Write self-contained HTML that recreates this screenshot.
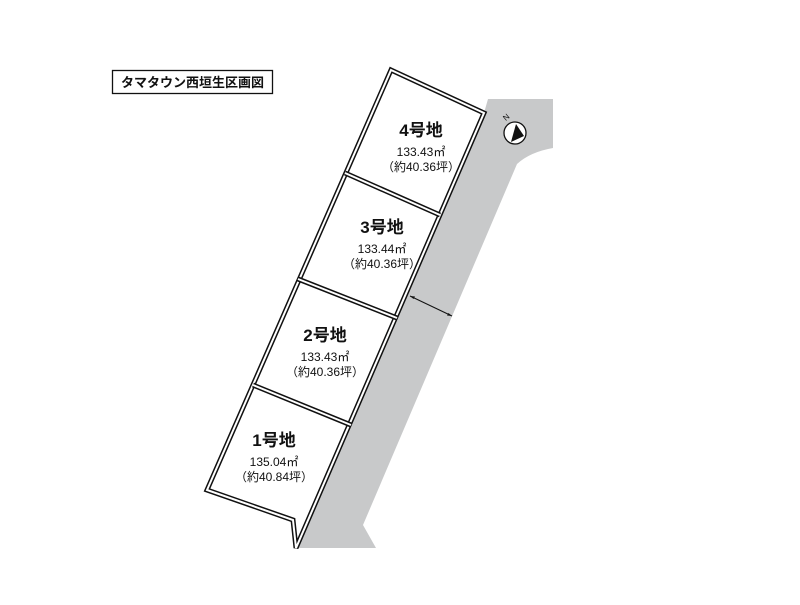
<!DOCTYPE html>
<html><head><meta charset="utf-8"><style>
body{margin:0;background:#fff}
svg text{font-family:"Liberation Sans","Noto Sans CJK JP",sans-serif;text-anchor:middle;fill:#111}
.t{font-size:17px;font-weight:bold}
.s{font-size:12px}
</style></head><body>
<svg width="800" height="600" viewBox="0 0 800 600" xmlns="http://www.w3.org/2000/svg">
<rect width="800" height="600" fill="#fff"/>
<path d="M488,99 L553,99 L553,148 Q530,152 517,164 L363,525 L376,548 L296,548 L484,113 Z" fill="#c8c9ca"/>
<g fill="none" stroke-linejoin="miter" stroke-miterlimit="2">
<path d="M391,70 L484,113 L296,548 L293,520 L207,490 Z" fill="#fff" stroke="#111" stroke-width="5"/>
<path d="M391,70 L484,113 L296,548 L293,520 L207,490 Z" stroke="#fff" stroke-width="2"/>
<path d="M345,173 L440,215 M298,279 L397,318 M253,385 L351,425" stroke="#111" stroke-width="5"/>
<path d="M345,173 L440,215 M298,279 L397,318 M253,385 L351,425" stroke="#fff" stroke-width="2"/>
</g>
<line x1="410" y1="296" x2="452" y2="316" stroke="#111" stroke-width="1"/>
<path d="M410,296 l5,0.5 l-1.5,2.5z M452,316 l-5,-0.5 l1.5,-2.5z" fill="#111"/>
<rect x="112.5" y="70.5" width="160" height="23" fill="#fff" stroke="#111" stroke-width="1.3"/>
<text x="192.5" y="87" style="font-size:13px;font-weight:bold">タマタウン西垣生区画図</text>
<circle cx="515" cy="133" r="11" fill="#fff" stroke="#111" stroke-width="1.3"/>
<path d="M516,124 L511,142 L524,136 Z" fill="#111"/>
<text x="506" y="120" transform="rotate(-40 506 117)" style="font-size:8px">N</text>
<text class="t" x="421" y="136">4号地</text>
<text class="s" x="421" y="156">133.43㎡</text>
<text class="s" x="421" y="171">（約40.36坪）</text>
<text class="t" x="382" y="233">3号地</text>
<text class="s" x="382" y="253">133.44㎡</text>
<text class="s" x="382" y="268">（約40.36坪）</text>
<text class="t" x="325" y="341">2号地</text>
<text class="s" x="325" y="361">133.43㎡</text>
<text class="s" x="325" y="376">（約40.36坪）</text>
<text class="t" x="274" y="446">1号地</text>
<text class="s" x="274" y="466">135.04㎡</text>
<text class="s" x="274" y="481">（約40.84坪）</text>
</svg>
</body></html>
